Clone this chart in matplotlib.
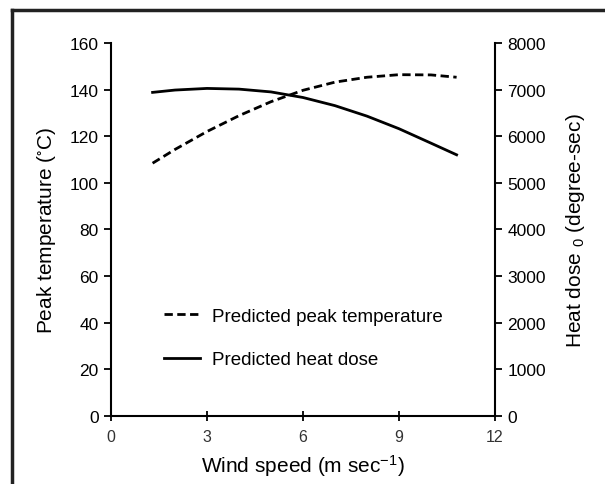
import matplotlib
matplotlib.use("Agg")
import matplotlib.pyplot as plt
from matplotlib.lines import Line2D

plt.rcParams['font.family'] = ['Liberation Sans', 'DejaVu Sans']
plt.rcParams['mathtext.default'] = 'regular'

wind_speed = [1.3, 2, 3, 4, 5, 6, 7, 8, 9, 10, 10.8]
peak_temp = [108.4, 114.3, 122.0, 128.8, 134.8, 139.7, 143.2, 145.3, 146.4, 146.3, 145.3]
heat_dose = [6940, 6990, 7025, 7010, 6950, 6830, 6655, 6430, 6160, 5850, 5600]

x_ticks = [0, 3, 6, 9, 12]
left_ticks = [0, 20, 40, 60, 80, 100, 120, 140, 160]
right_ticks = [0, 1000, 2000, 3000, 4000, 5000, 6000, 7000, 8000]

fig = plt.figure(figsize=(6.05, 4.85), dpi=100)
ax = fig.add_axes([111/605, 1-416.7/485, 384/605, (416.7-44)/485])
ax2 = ax.twinx()

dash = (0, (3, 1.6))
ax.plot(wind_speed, peak_temp, color='black', lw=2, linestyle=dash)
ax2.plot(wind_speed, heat_dose, color='black', lw=2)

ax.set_xlim(0, 12)
ax.set_ylim(0, 160)
ax2.set_ylim(0, 8000)
ax.set_xticks(x_ticks)
ax.set_yticks(left_ticks)
ax2.set_yticks(right_ticks)

for a in (ax, ax2):
    a.spines['top'].set_visible(False)
    for s in a.spines.values():
        s.set_linewidth(1.5)
ax.spines['right'].set_visible(False)
ax2.spines['left'].set_visible(False)
ax2.spines['bottom'].set_visible(False)

ax.tick_params(axis='y', direction='out', length=5, width=1.3, labelsize=12.5, pad=4)
ax.tick_params(axis='x', direction='inout', length=7, width=1.3, labelsize=11.5, pad=6, labelcolor='#333333')
ax2.tick_params(axis='y', direction='out', length=5, width=1.3, labelsize=12.5, pad=4)

ax.set_xlabel('Wind speed (m sec$^{-1}$)', fontsize=15, labelpad=6)
ax.set_ylabel('Peak temperature ($^{\\circ}$C)', fontsize=15, labelpad=8)
ax2.set_ylabel('Heat dose $_{0}$ (degree-sec)', fontsize=15, labelpad=13)

ax.legend([Line2D([], [], color='black', lw=2, linestyle=dash),
           Line2D([], [], color='black', lw=2)],
          ['Predicted peak temperature', 'Predicted heat dose'],
          loc='upper left', bbox_to_anchor=(0.095, 0.335), frameon=False,
          fontsize=13.5, handlelength=1.9, handletextpad=0.65, labelspacing=1.4)

# outer frame (cropped on right and bottom)
fig.add_artist(Line2D([12/605, 1.0], [1-11/485, 1-11/485], color='#222222', lw=2.5, transform=fig.transFigure))
fig.add_artist(Line2D([12/605, 12/605], [0.0, 1-11/485], color='#222222', lw=2.5, transform=fig.transFigure))

fig.savefig('out.png', dpi=100)
